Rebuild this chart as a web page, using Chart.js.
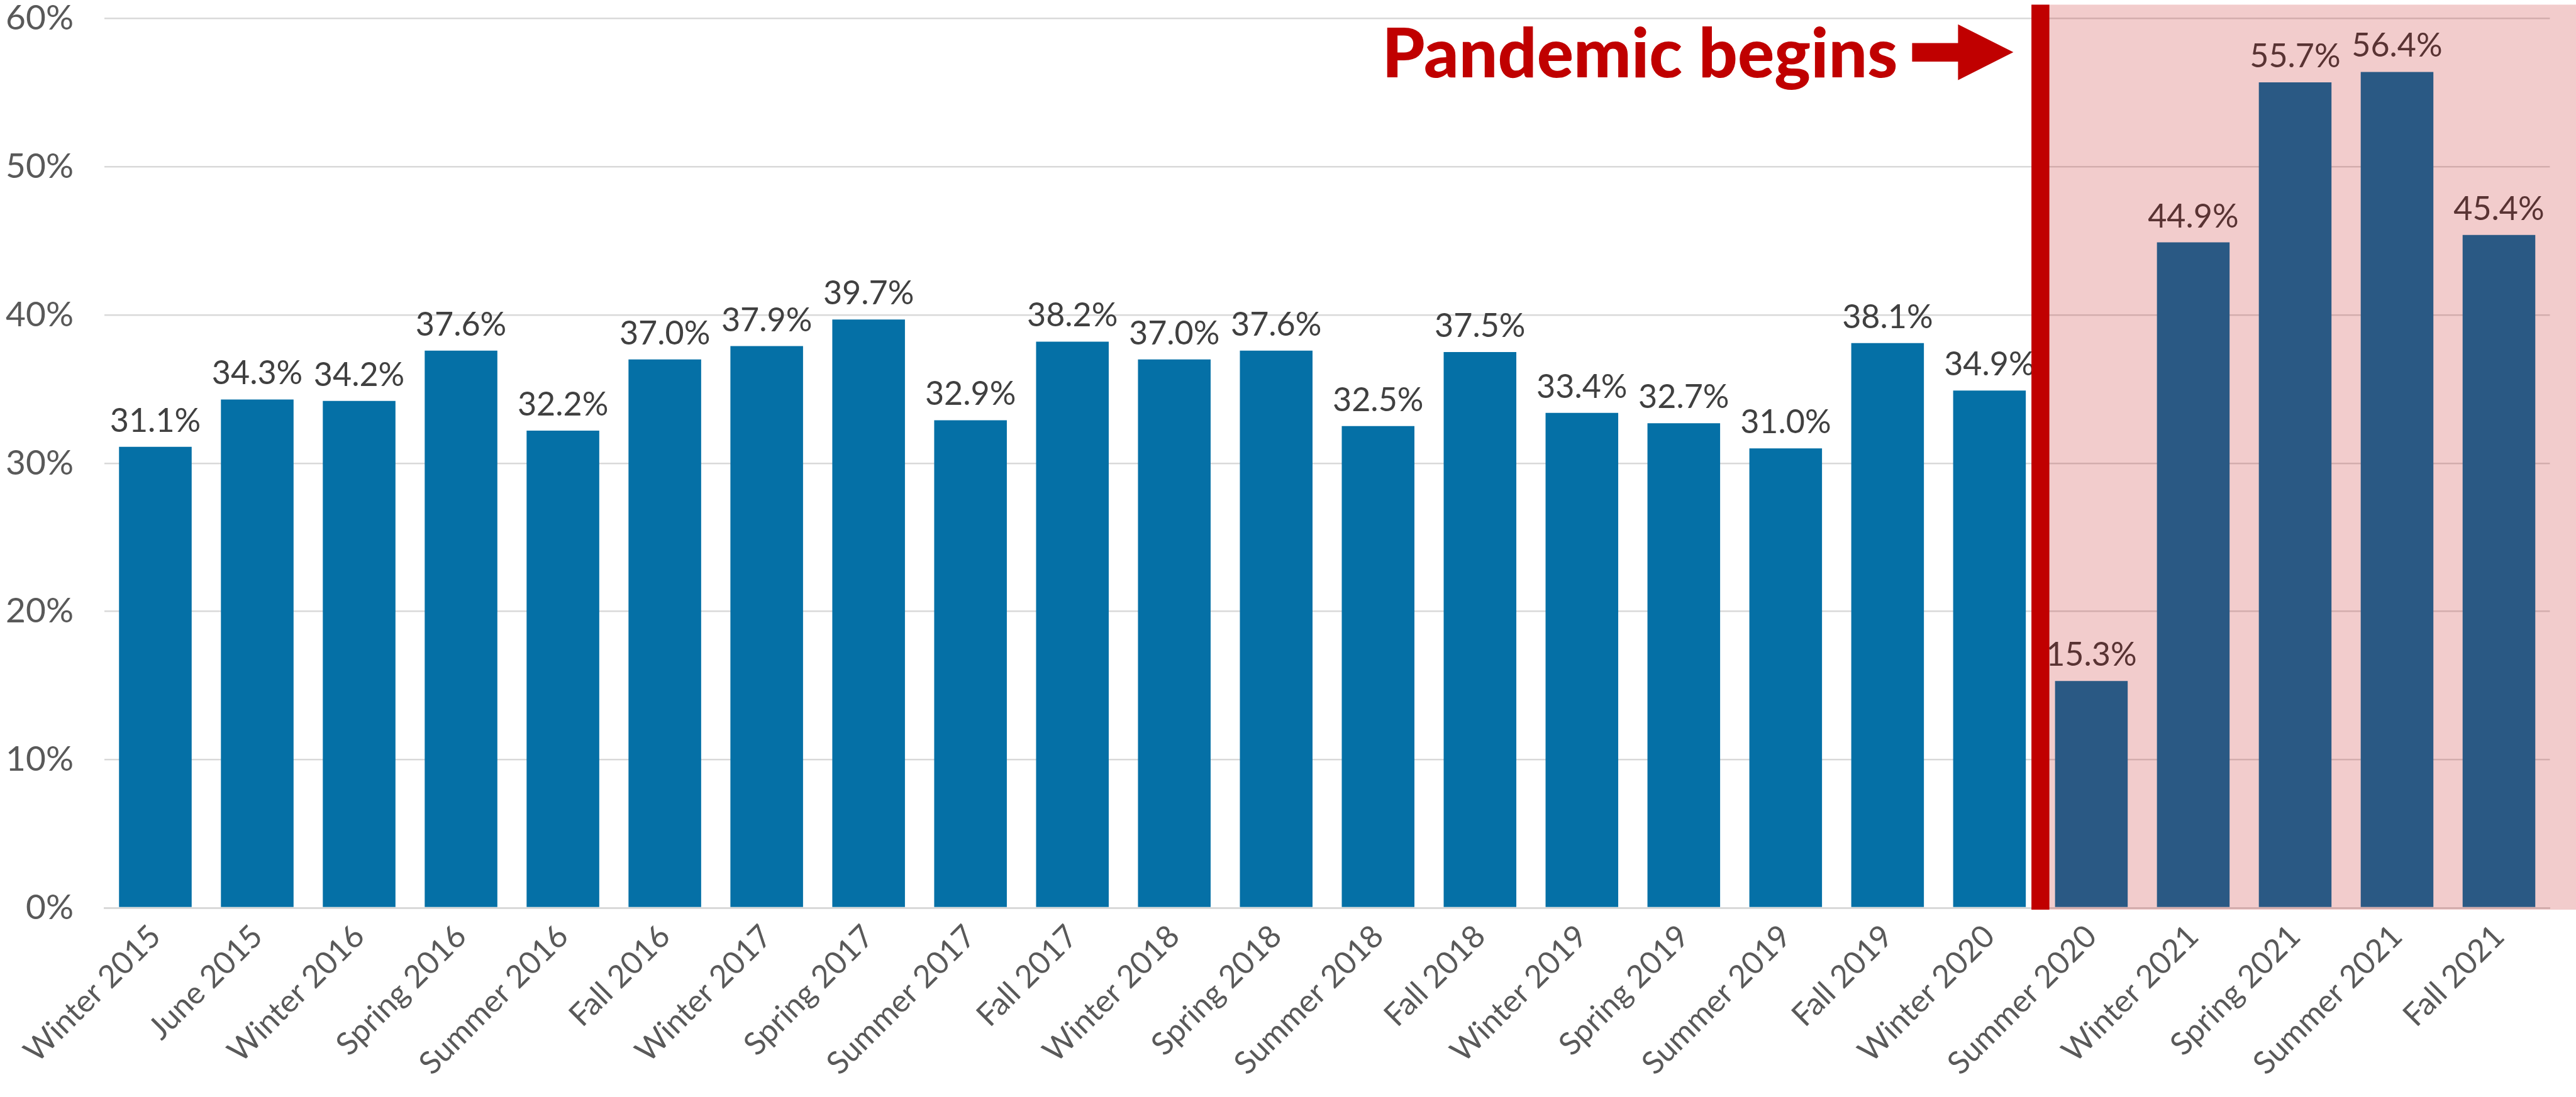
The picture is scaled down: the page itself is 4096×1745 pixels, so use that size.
<!DOCTYPE html>
<html>
<head>
<meta charset="utf-8">
<style>
  html, body { margin: 0; padding: 0; background: #ffffff; }
  #wrap { width: 4096px; height: 1745px; }
</style>
<script src="https://cdn.jsdelivr.net/npm/chart.js@4.4.1/dist/chart.umd.min.js"></script>
</head>
<body>
<div id="wrap"><canvas id="c" width="4096" height="1745"></canvas></div>
<script>
// Survey waves
const categories = [
  'Winter 2015', 'June 2015', 'Winter 2016', 'Spring 2016', 'Summer 2016', 'Fall 2016',
  'Winter 2017', 'Spring 2017', 'Summer 2017', 'Fall 2017', 'Winter 2018', 'Spring 2018',
  'Summer 2018', 'Fall 2018', 'Winter 2019', 'Spring 2019', 'Summer 2019', 'Fall 2019',
  'Winter 2020', 'Summer 2020', 'Winter 2021', 'Spring 2021', 'Summer 2021', 'Fall 2021'
];

// Share of respondents, in percent
const rates = [
  31.1, 34.3, 34.2, 37.6, 32.2, 37.0,
  37.9, 39.7, 32.9, 38.2, 37.0, 37.6,
  32.5, 37.5, 33.4, 32.7, 31.0, 38.1,
  34.9, 15.3, 44.9, 55.7, 56.4, 45.4
];

// Y axis ticks, in percent
const yTicks = [0, 10, 20, 30, 40, 50, 60];

// First wave fielded after the pandemic began
const pandemicStart = 'Summer 2020';
const annotationText = 'Pandemic begins';

const FONT = 'Lato, "Open Sans", sans-serif';
const RED = '#C00000';

// Value labels above each bar
const valueLabels = {
  id: 'valueLabels',
  afterDatasetsDraw(chart) {
    const ctx = chart.ctx;
    const meta = chart.getDatasetMeta(0);
    ctx.save();
    ctx.font = '52px ' + FONT;
    ctx.fillStyle = '#404040';
    ctx.textAlign = 'center';
    ctx.textBaseline = 'alphabetic';
    meta.data.forEach((bar, i) => {
      ctx.fillText(rates[i].toFixed(1) + '%', bar.x, bar.y - 24);
    });
    ctx.restore();
  }
};

// Shaded pandemic period, divider line and callout
const pandemicShade = {
  id: 'pandemicShade',
  afterDraw(chart) {
    const ctx = chart.ctx;
    const xs = chart.scales.x;
    const ys = chart.scales.y;
    const idx = categories.indexOf(pandemicStart);
    const divider = (xs.getPixelForValue(idx - 1) + xs.getPixelForValue(idx)) / 2;
    const lineW = 28.6;
    const top = 7.4;
    const bottom = ys.getPixelForValue(0) + 3;

    ctx.save();
    // translucent red wash over the pandemic waves
    ctx.fillStyle = 'rgba(192, 0, 0, 0.2)';
    ctx.fillRect(divider + lineW / 2, top, chart.width - (divider + lineW / 2), bottom - top);

    // solid divider
    ctx.fillStyle = RED;
    ctx.fillRect(divider - lineW / 2, top, lineW, bottom - top);

    // arrow pointing at the divider
    const tipX = divider - 43;
    const headX = divider - 131;
    const tailX = divider - 204;
    const midY = 83;
    ctx.beginPath();
    ctx.moveTo(tailX, 68.4);
    ctx.lineTo(headX, 68.4);
    ctx.lineTo(headX, 38.8);
    ctx.lineTo(tipX, midY);
    ctx.lineTo(headX, 127.5);
    ctx.lineTo(headX, 98);
    ctx.lineTo(tailX, 98);
    ctx.closePath();
    ctx.fill();

    // callout text, fitted to its slot
    const textRight = divider - 227;
    const textWidth = 820;
    ctx.font = '900 108px ' + FONT;
    const w = ctx.measureText(annotationText).width;
    ctx.translate(textRight - textWidth, 123);
    ctx.scale(textWidth / w, 1);
    ctx.textAlign = 'left';
    ctx.textBaseline = 'alphabetic';
    ctx.fillText(annotationText, 0, 0);
    ctx.restore();
  }
};

function draw() {
  new Chart(document.getElementById('c'), {
    type: 'bar',
    data: {
      labels: categories,
      datasets: [{
        data: rates,
        backgroundColor: '#0570A6',
        borderWidth: 0,
        barPercentage: 0.713,
        categoryPercentage: 1.0
      }]
    },
    options: {
      responsive: false,
      animation: false,
      devicePixelRatio: 1,
      layout: { padding: { top: 29.6, right: 41.5, left: 0, bottom: 0 } },
      plugins: { legend: { display: false }, tooltip: { enabled: false } },
      scales: {
        x: {
          grid: { display: false, drawTicks: false },
          border: { color: '#D9D9D9', width: 3 },
          ticks: {
            color: '#595959',
            font: { family: FONT, size: 50 },
            minRotation: 45,
            maxRotation: 45,
            autoSkip: false,
            padding: 16
          },
          afterFit(scale) { scale.height = 301; }
        },
        y: {
          min: yTicks[0],
          max: yTicks[yTicks.length - 1],
          afterBuildTicks(scale) { scale.ticks = yTicks.map(v => ({ value: v })); },
          ticks: {
            color: '#595959',
            font: { family: FONT, size: 55, lineHeight: 1 },
            padding: 0,
            callback: v => v + '%'
          },
          grid: {
            color: '#D9D9D9',
            lineWidth: 2.5,
            drawTicks: true,
            tickLength: 49,
            tickColor: 'rgba(0,0,0,0)'
          },
          border: { display: false },
          afterFit(scale) { scale.width = 166; }
        }
      }
    },
    plugins: [valueLabels, pandemicShade]
  });
}

if (document.fonts && document.fonts.load) {
  Promise.all([
    document.fonts.load('55px Lato'),
    document.fonts.load('900 108px Lato')
  ]).then(draw, draw);
} else {
  draw();
}
</script>
</body>
</html>
